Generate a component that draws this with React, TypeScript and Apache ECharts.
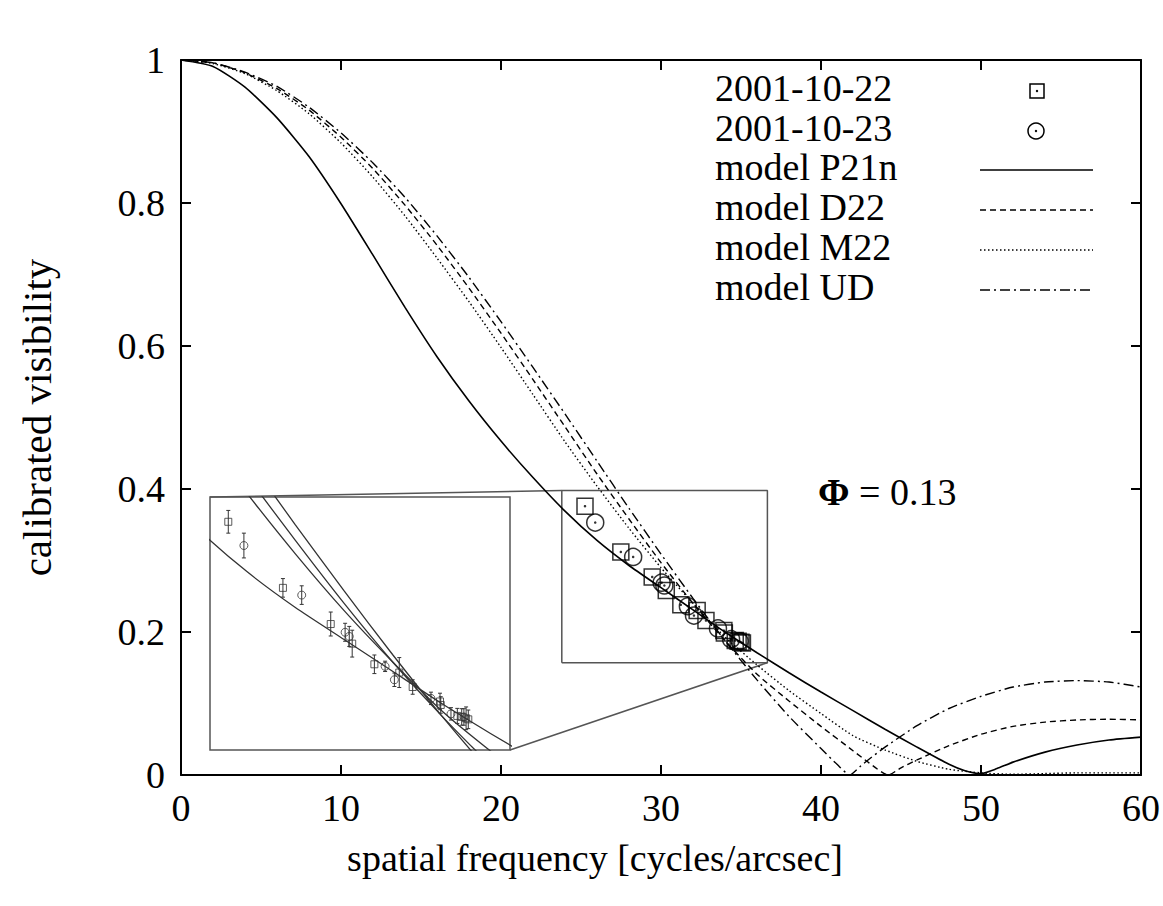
import React, { useEffect, useRef } from "react";
import * as echarts from "echarts";

const FONT = '"Liberation Serif", "Times New Roman", Times, serif';

// axis ranges / ticks
const xRange = [0, 60];
const yRange = [0, 1];
const xStep = 10;
const yStep = 0.2;

// inset (magnified view) ranges and the box it magnifies in the main plot
const insetX = [24.5, 36.8];
const insetY = [0.155, 0.4];
const zoomBoxX = [23.8, 36.65];
const zoomBoxY = [0.157, 0.398];

// model curves [spatial frequency, visibility]
const modelP21n = [
  [0, 1], [2, 0.991], [4, 0.962], [6, 0.919], [8, 0.865], [10, 0.799], [12, 0.727],
  [14, 0.654], [16, 0.585], [18, 0.523], [20, 0.467], [22, 0.416], [24, 0.369],
  [26, 0.328], [28, 0.293], [30, 0.262], [32, 0.231], [34, 0.2], [36, 0.171],
  [38, 0.143], [40, 0.116], [42, 0.09], [44, 0.064], [46, 0.039], [48, 0.015],
  [49, 0.006], [50, 0.002], [51, 0.009], [52, 0.018], [54, 0.032], [56, 0.042],
  [58, 0.049], [60, 0.053],
];
const modelD22 = [
  [0, 1], [2, 0.996], [4, 0.982], [6, 0.96], [8, 0.93], [10, 0.892], [12, 0.848],
  [14, 0.797], [16, 0.741], [18, 0.681], [20, 0.618], [22, 0.553], [24, 0.487],
  [26, 0.421], [28, 0.358], [30, 0.297], [32, 0.24], [34, 0.188], [36, 0.141],
  [38, 0.1035], [40, 0.068], [42, 0.034], [43, 0.017], [44.2, 0], [45, 0.01],
  [46, 0.021], [48, 0.041], [50, 0.057], [52, 0.068], [54, 0.074], [56, 0.077],
  [58, 0.078], [60, 0.077],
];
const modelM22 = [
  [0, 1], [2, 0.995], [4, 0.981], [6, 0.957], [8, 0.925], [10, 0.884], [12, 0.836],
  [14, 0.782], [16, 0.723], [18, 0.662], [20, 0.598], [22, 0.532], [24, 0.466],
  [26, 0.404], [28, 0.345], [30, 0.29], [32, 0.24], [34, 0.193], [36, 0.154],
  [38, 0.118], [40, 0.086], [42, 0.055], [44, 0.035], [46, 0.019], [48, 0.008],
  [50, 0.003], [52, 0.001], [54, 0.002], [56, 0.003], [58, 0.003], [60, 0.003],
];
const modelUD = [
  [0, 1], [2, 0.996], [4, 0.983], [6, 0.963], [8, 0.934], [10, 0.898], [12, 0.856],
  [14, 0.808], [16, 0.754], [18, 0.696], [20, 0.634], [22, 0.57], [24, 0.505],
  [26, 0.439], [28, 0.373], [30, 0.309], [32, 0.247], [34, 0.188], [36, 0.133],
  [38, 0.082], [40, 0.037], [41, 0.015], [41.8, 0], [42.5, 0.013], [43, 0.022],
  [44, 0.039], [46, 0.069], [48, 0.093], [50, 0.11], [52, 0.123], [54, 0.13],
  [56, 0.132], [58, 0.13], [60, 0.123],
];

// measurements [spatial frequency, visibility, error]
const obs20011022 = [
  [25.25, 0.376, 0.011], [27.49, 0.312, 0.009], [29.45, 0.277, 0.0116],
  [30.33, 0.258, 0.013], [31.24, 0.238, 0.009], [32.26, 0.23, 0.0145],
  [32.81, 0.216, 0.007], [33.93, 0.202, 0.008], [33.96, 0.1986, 0.008],
  [34.64, 0.188, 0.0073], [34.82, 0.187, 0.008], [35.0, 0.1857, 0.011],
  [35.09, 0.1847, 0.009],
];
const obs20011023 = [
  [25.89, 0.353, 0.012], [28.26, 0.305, 0.009], [30.04, 0.269, 0.0087],
  [30.21, 0.265, 0.0097], [31.68, 0.236, 0.005], [32.06, 0.223, 0.0065],
  [33.56, 0.205, 0.006], [34.38, 0.19, 0.006], [34.91, 0.187, 0.008],
];

const legendLabels = ["2001-10-22", "2001-10-23", "model P21n", "model D22", "model M22", "model UD"];
const phiLabel = "= 0.13";

export default function App() {
  const ref = useRef<HTMLDivElement>(null);

  useEffect(() => {
    if (!ref.current) return;
    const chart = echarts.init(ref.current, null, { renderer: "svg" });

    const frameAxis = (extra: any) => ({
      type: "value",
      axisLine: { show: true, onZero: false, lineStyle: { color: "#000", width: 2 } },
      axisTick: { show: true, inside: true, length: 10, lineStyle: { color: "#000", width: 2 } },
      splitLine: { show: false },
      ...extra,
    });
    const labelStyle = { color: "#000", fontFamily: FONT, fontSize: 38 };

    const mainLine = (name: string, data: number[][], type: any, width: number) => ({
      type: "line",
      name,
      data,
      xAxisIndex: 0,
      yAxisIndex: 0,
      symbol: "none",
      smooth: 0.2,
      silent: true,
      lineStyle: { color: "#000", width, type },
      z: 2,
    });
    const insetLine = (data: number[][]) => ({
      type: "line",
      data,
      xAxisIndex: 2,
      yAxisIndex: 2,
      symbol: "none",
      smooth: 0.2,
      silent: true,
      clip: true,
      lineStyle: { color: "#333", width: 1.3 },
      z: 6,
    });

    const boxData = [
      [zoomBoxX[0], zoomBoxY[0]], [zoomBoxX[1], zoomBoxY[0]], [zoomBoxX[1], zoomBoxY[1]],
      [zoomBoxX[0], zoomBoxY[1]], [zoomBoxX[0], zoomBoxY[0]],
    ];

    const option: any = {
      animation: false,
      backgroundColor: "#fff",
      grid: [
        { left: 181, top: 60, right: 22, bottom: 131, show: false },
        { left: 210, top: 497, width: 300, height: 253, show: true, borderColor: "#555", borderWidth: 1.5 },
      ],
      xAxis: [
        frameAxis({
          gridIndex: 0, min: xRange[0], max: xRange[1], interval: xStep, position: "bottom",
          axisLabel: { ...labelStyle, margin: 14 },
          name: "spatial frequency [cycles/arcsec]", nameLocation: "middle", nameGap: 64,
          nameTextStyle: { ...labelStyle, padding: [0, 132, 0, 0] },
        }),
        frameAxis({ gridIndex: 0, min: xRange[0], max: xRange[1], interval: xStep, position: "top", axisLabel: { show: false } }),
        { type: "value", gridIndex: 1, min: insetX[0], max: insetX[1], show: false },
      ],
      yAxis: [
        frameAxis({
          gridIndex: 0, min: yRange[0], max: yRange[1], interval: yStep, position: "left",
          axisLabel: {
            ...labelStyle, margin: 16,
            formatter: (v: number) => (v === 0 ? "0" : v === 1 ? "1" : v.toFixed(1)),
          },
          name: "calibrated visibility", nameLocation: "middle", nameGap: 124, nameRotate: 90,
          nameTextStyle: { ...labelStyle, fontSize: 41 },
        }),
        frameAxis({ gridIndex: 0, min: yRange[0], max: yRange[1], interval: yStep, position: "right", axisLabel: { show: false } }),
        { type: "value", gridIndex: 1, min: insetY[0], max: insetY[1], show: false },
      ],
      series: [
        mainLine("model P21n", modelP21n, "solid", 1.6),
        mainLine("model D22", modelD22, [6, 4], 1.4),
        mainLine("model M22", modelM22, [1.5, 2.5], 1.4),
        mainLine("model UD", modelUD, [10, 4, 2, 4], 1.4),
        {
          type: "line", data: boxData, xAxisIndex: 0, yAxisIndex: 0, symbol: "none", silent: true,
          lineStyle: { color: "#555", width: 1.5 }, z: 1,
        },
        {
          type: "scatter", name: "2001-10-22", data: obs20011022.map((d) => [d[0], d[1]]),
          xAxisIndex: 0, yAxisIndex: 0, symbol: "rect", symbolSize: 16, silent: true,
          itemStyle: { color: "rgba(0,0,0,0)", borderColor: "#000", borderWidth: 1.5 }, z: 4,
        },
        {
          type: "scatter", name: "2001-10-23", data: obs20011023.map((d) => [d[0], d[1]]),
          xAxisIndex: 0, yAxisIndex: 0, symbol: "circle", symbolSize: 17, silent: true,
          itemStyle: { color: "rgba(0,0,0,0)", borderColor: "#000", borderWidth: 1.5 }, z: 4,
        },
        {
          type: "scatter", data: [...obs20011022, ...obs20011023].map((d) => [d[0], d[1]]),
          xAxisIndex: 0, yAxisIndex: 0, symbol: "circle", symbolSize: 2.5, silent: true,
          itemStyle: { color: "#000" }, z: 5,
        },
        insetLine(modelP21n),
        insetLine(modelD22),
        insetLine(modelM22),
        insetLine(modelUD),
        {
          type: "custom", xAxisIndex: 2, yAxisIndex: 2, silent: true, z: 7,
          data: [...obs20011022, ...obs20011023],
          encode: { x: 0, y: 1 },
          renderItem: (_p: any, api: any) => {
            const x = api.value(0), y = api.value(1), e = api.value(2);
            const a = api.coord([x, y + e]);
            const b = api.coord([x, y - e]);
            const st = { stroke: "#333", lineWidth: 1 };
            return {
              type: "group",
              children: [
                { type: "line", shape: { x1: a[0], y1: a[1], x2: b[0], y2: b[1] }, style: st },
                { type: "line", shape: { x1: a[0] - 2, y1: a[1], x2: a[0] + 2, y2: a[1] }, style: st },
                { type: "line", shape: { x1: b[0] - 2, y1: b[1], x2: b[0] + 2, y2: b[1] }, style: st },
              ],
            };
          },
        },
        {
          type: "scatter", data: obs20011022.map((d) => [d[0], d[1]]), xAxisIndex: 2, yAxisIndex: 2,
          symbol: "rect", symbolSize: 7, silent: true,
          itemStyle: { color: "rgba(0,0,0,0)", borderColor: "#333", borderWidth: 1 }, z: 8,
        },
        {
          type: "scatter", data: obs20011023.map((d) => [d[0], d[1]]), xAxisIndex: 2, yAxisIndex: 2,
          symbol: "circle", symbolSize: 8, silent: true,
          itemStyle: { color: "rgba(0,0,0,0)", borderColor: "#333", borderWidth: 1 }, z: 8,
        },
      ],
    };
    chart.setOption(option);

    const tl = chart.convertToPixel({ gridIndex: 0 } as any, [zoomBoxX[0], zoomBoxY[1]]) as number[];
    const br = chart.convertToPixel({ gridIndex: 0 } as any, [zoomBoxX[1], zoomBoxY[0]]) as number[];
    const itl = chart.convertToPixel({ gridIndex: 1 } as any, [insetX[0], insetY[1]]) as number[];
    const ibr = chart.convertToPixel({ gridIndex: 1 } as any, [insetX[1], insetY[0]]) as number[];

    const textX = 715;
    const rowY = [91, 131, 170, 210, 250, 290];
    const sx0 = 980, sx1 = 1093;
    const lineTypes: any[] = [null, null, [], [6, 4], [1.5, 2.5], [10, 4, 2, 4]];
    const graphics: any[] = [];
    legendLabels.forEach((lab, i) => {
      graphics.push({
        type: "text", x: textX, y: rowY[i] - 3, silent: true,
        style: { text: lab, fontFamily: FONT, fontSize: 38, fill: "#000", align: "left", verticalAlign: "middle" },
      });
      if (i === 0) {
        graphics.push({ type: "rect", silent: true, shape: { x: 1030, y: rowY[i] - 7, width: 14, height: 14 }, style: { fill: "none", stroke: "#000", lineWidth: 1.5 } });
        graphics.push({ type: "circle", silent: true, shape: { cx: 1037, cy: rowY[i], r: 1.2 }, style: { fill: "#000" } });
      } else if (i === 1) {
        graphics.push({ type: "circle", silent: true, shape: { cx: 1036, cy: rowY[i], r: 8 }, style: { fill: "none", stroke: "#000", lineWidth: 1.5 } });
        graphics.push({ type: "circle", silent: true, shape: { cx: 1036, cy: rowY[i], r: 1.2 }, style: { fill: "#000" } });
      } else {
        graphics.push({
          type: "line", silent: true, shape: { x1: sx0, y1: rowY[i], x2: sx1, y2: rowY[i] },
          style: { stroke: "#000", lineWidth: i === 2 ? 1.6 : 1.4, lineDash: lineTypes[i].length ? lineTypes[i] : null },
        });
      }
    });
    graphics.push({
      type: "text", x: 818, y: 492, silent: true,
      style: {
        text: "{b|Φ} " + phiLabel, fontFamily: FONT, fontSize: 38, fill: "#000", align: "left", verticalAlign: "middle",
        rich: { b: { fontFamily: FONT, fontSize: 38, fontWeight: "bold", fill: "#000" } },
      },
    });
    graphics.push({ type: "line", silent: true, z: 1, shape: { x1: itl[0], y1: itl[1], x2: tl[0], y2: tl[1] }, style: { stroke: "#555", lineWidth: 1.5 } });
    graphics.push({ type: "line", silent: true, z: 1, shape: { x1: ibr[0], y1: ibr[1], x2: br[0], y2: br[1] }, style: { stroke: "#555", lineWidth: 1.5 } });

    chart.setOption({ graphic: graphics });

    return () => chart.dispose();
  }, []);

  return <div ref={ref} style={{ position: "absolute", left: 0, top: 0, width: 1163, height: 906, background: "#fff" }} />;
}
